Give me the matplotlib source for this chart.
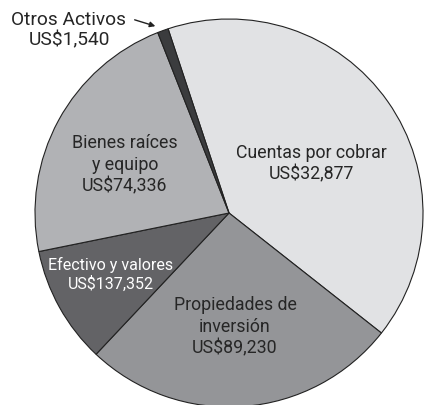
import matplotlib.pyplot as plt

plt.rcParams['font.family'] = ['Roboto', 'DejaVu Sans']

# slice shares (percent)
names = ["Cuentas por cobrar", "Propiedades de\ninversión", "Efectivo y valores",
         "Bienes raíces\ny equipo", "Otros Activos"]
amounts = ["US$32,877", "US$89,230", "US$137,352", "US$74,336", "US$1,540"]
shares = [40.7, 26.4, 9.8, 22.2, 0.9]
colors = ["#e1e2e4", "#949598", "#636366", "#b1b2b5", "#3b3c3e"]

fig = plt.figure(figsize=(4.25, 4.05), dpi=100)
ax = fig.add_axes([0, 0, 1, 1])
ax.set_xlim(0, 425)
ax.set_ylim(0, 405)

cx, cy, r = 229, 192, 194
ax.pie(shares, colors=colors, startangle=108.3, counterclock=False,
       center=(cx, cy), radius=r, frame=True,
       wedgeprops=dict(edgecolor="#222222", linewidth=0.8))
ax.set_aspect("equal")
ax.axis("off")

txt = "#262626"
fs = 12.8
ax.text(311, 405 - 164, names[0] + "\n" + amounts[0], ha="center", va="center",
        fontsize=fs, color=txt, linespacing=1.25)
ax.text(235, 405 - 327, names[1] + "\n" + amounts[1], ha="center", va="center",
        fontsize=fs, color=txt, linespacing=1.25)
ax.text(111, 405 - 274, names[2] + "\n" + amounts[2], ha="center", va="center",
        fontsize=11.5, color="white", linespacing=1.2)
ax.text(125, 405 - 165, names[3] + "\n" + amounts[3], ha="center", va="center",
        fontsize=fs, color=txt, linespacing=1.25)

ax.text(69, 405 - 30, names[4] + "\n" + amounts[4], ha="center", va="center",
        fontsize=13.8, color=txt, linespacing=1.2)
ax.annotate("", xy=(158, 405 - 27), xytext=(132, 405 - 19),
            arrowprops=dict(arrowstyle="-|>", color="#222222", lw=1, mutation_scale=8))

fig.savefig("out.png", dpi=100, facecolor="white")
